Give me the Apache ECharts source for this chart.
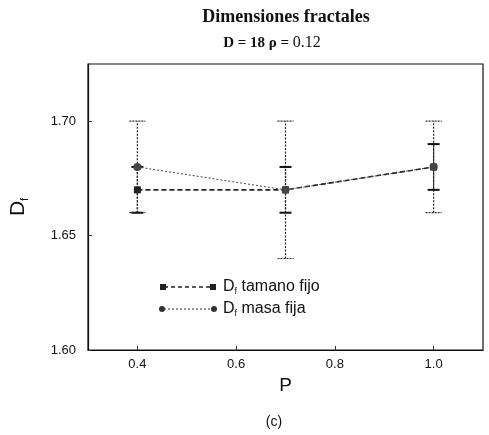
<!DOCTYPE html>
<html>
<head>
<meta charset="utf-8">
<script src="https://cdn.jsdelivr.net/npm/echarts@6/dist/echarts.min.js"></script>
<style>
  html, body { margin: 0; padding: 0; background: #fff; }
  #chart { width: 489px; height: 435px; }
</style>
</head>
<body>
<div id="chart"></div>
<script>
// Fractal dimension D_f versus P, for fixed size and fixed mass
const pValues = [0.4, 0.7, 1.0];
const tamanoFijo = [1.67, 1.67, 1.68];
const tamanoFijoErr = [0.01, 0.01, 0.01];
const masaFija = [1.68, 1.67, 1.68];
const masaFijaErr = [0.02, 0.03, 0.02];
const xTickLabels = [0.4, 0.6, 0.8, 1.0];
const yTickLabels = [1.60, 1.65, 1.70];

const chart = echarts.init(document.getElementById('chart'));
const SANS = '"Liberation Sans", Arial, sans-serif';
const SERIF = '"Liberation Serif", "Times New Roman", serif';

function errData(vals, errs) {
  return pValues.map((p, i) => [p, vals[i] - errs[i], vals[i] + errs[i]]);
}

function errorBarSeries(data, capHalf, style) {
  return {
    type: 'custom',
    z: 1,
    data: data,
    encode: { x: 0, y: [1, 2] },
    renderItem: function (params, api) {
      const x = api.value(0);
      const lo = api.coord([x, api.value(1)]);
      const hi = api.coord([x, api.value(2)]);
      return {
        type: 'group',
        children: [
          { type: 'line', shape: { x1: lo[0], y1: lo[1], x2: hi[0], y2: hi[1] },
            style: { stroke: '#222', lineWidth: 1.2, lineDash: [2, 1.5] } },
          { type: 'line', shape: { x1: lo[0] - capHalf, y1: lo[1], x2: lo[0] + capHalf, y2: lo[1] }, style: style },
          { type: 'line', shape: { x1: hi[0] - capHalf, y1: hi[1], x2: hi[0] + capHalf, y2: hi[1] }, style: style }
        ]
      };
    }
  };
}

const subRich = {
  a: { fontSize: 16, fontFamily: SANS, fill: '#111' },
  s: { fontSize: 9, fontFamily: SANS, fill: '#111', padding: [9, 0, 0, 0] }
};

chart.setOption({
  animation: false,
  backgroundColor: '#fff',
  graphic: [
    { type: 'text', x: 286, y: 8, style: { text: 'Dimensiones fractales', fontSize: 18, fontWeight: 'bold', fontFamily: SERIF, fill: '#111', align: 'center' } },
    { type: 'text', x: 272, y: 35, style: {
        text: '{b|D = 18 ρ = }{n|0.12}', align: 'center',
        rich: { b: { fontSize: 15, fontWeight: 'bold', fontFamily: SERIF, fill: '#111' }, n: { fontSize: 16, fontFamily: SERIF, fill: '#111' } } } },
    { type: 'text', x: 274, y: 415, style: { text: '(c)', fontSize: 14, fontFamily: SANS, fill: '#111', align: 'center' } },
    // legend
    { type: 'line', shape: { x1: 164, y1: 287, x2: 213, y2: 287 }, style: { stroke: '#222', lineWidth: 1.5, lineDash: [4, 3] } },
    { type: 'rect', shape: { x: 160, y: 284, width: 6, height: 6 }, style: { fill: '#222' } },
    { type: 'rect', shape: { x: 210, y: 284, width: 6, height: 6 }, style: { fill: '#222' } },
    { type: 'line', shape: { x1: 164, y1: 309, x2: 213, y2: 309 }, style: { stroke: '#333', lineWidth: 1, lineDash: [2, 2] } },
    { type: 'circle', shape: { cx: 162, cy: 309, r: 3 }, style: { fill: '#333' } },
    { type: 'circle', shape: { cx: 214, cy: 309, r: 3 }, style: { fill: '#333' } },
    { type: 'text', x: 223, y: 278, style: { text: '{a|D}{s|f}{a| tamano fijo}', rich: subRich } },
    { type: 'text', x: 223, y: 300, style: { text: '{a|D}{s|f}{a| masa fija}', rich: subRich } }
  ],
  grid: { left: 87, top: 64, right: 6, bottom: 85, show: true, borderColor: '#111', borderWidth: 1.2, backgroundColor: 'transparent' },
  xAxis: {
    type: 'value', min: 0.3, max: 1.1,
    name: 'P', nameLocation: 'middle', nameGap: 21,
    nameTextStyle: { fontSize: 19, fontFamily: SANS, color: '#111' },
    axisLine: { show: true, lineStyle: { color: '#111', width: 1.2 } },
    axisTick: { show: true, inside: true, length: 4, customValues: xTickLabels, lineStyle: { color: '#333' } },
    axisLabel: { customValues: xTickLabels, formatter: v => v.toFixed(1), fontSize: 13, fontFamily: SANS, color: '#111', margin: 8 },
    splitLine: { show: false }
  },
  yAxis: {
    type: 'value', min: 1.60, max: 1.725,
    name: '{d|D}{s|f}', nameLocation: 'middle', nameGap: 58, nameRotate: 90,
    nameTextStyle: { rich: {
      d: { fontSize: 21, fontFamily: SANS, color: '#111' },
      s: { fontSize: 11, fontFamily: SANS, color: '#111', padding: [12, 0, 0, 0] } } },
    axisLine: { show: true, lineStyle: { color: '#111', width: 1.2 } },
    axisTick: { show: true, inside: true, length: 4, customValues: yTickLabels, lineStyle: { color: '#333' } },
    axisLabel: { customValues: yTickLabels, formatter: v => v.toFixed(2), fontSize: 13, fontFamily: SANS, color: '#111', margin: 12 },
    splitLine: { show: false }
  },
  series: [
    errorBarSeries(errData(masaFija, masaFijaErr), 8, { stroke: '#333', lineWidth: 1.2, lineDash: [2, 1] }),
    errorBarSeries(errData(tamanoFijo, tamanoFijoErr), 6, { stroke: '#111', lineWidth: 2 }),
    {
      name: 'Df tamano fijo', type: 'line', z: 3,
      data: pValues.map((p, i) => [p, tamanoFijo[i]]),
      symbol: 'rect', symbolSize: 7,
      itemStyle: { color: '#222' },
      lineStyle: { color: '#222', width: 1.6, type: [5, 3] }
    },
    {
      name: 'Df masa fija', type: 'line', z: 4,
      data: pValues.map((p, i) => [p, masaFija[i]]),
      symbol: 'circle', symbolSize: 8,
      itemStyle: { color: '#444' },
      lineStyle: { color: '#444', width: 1, type: [2, 2] }
    }
  ]
});
</script>
</body>
</html>
